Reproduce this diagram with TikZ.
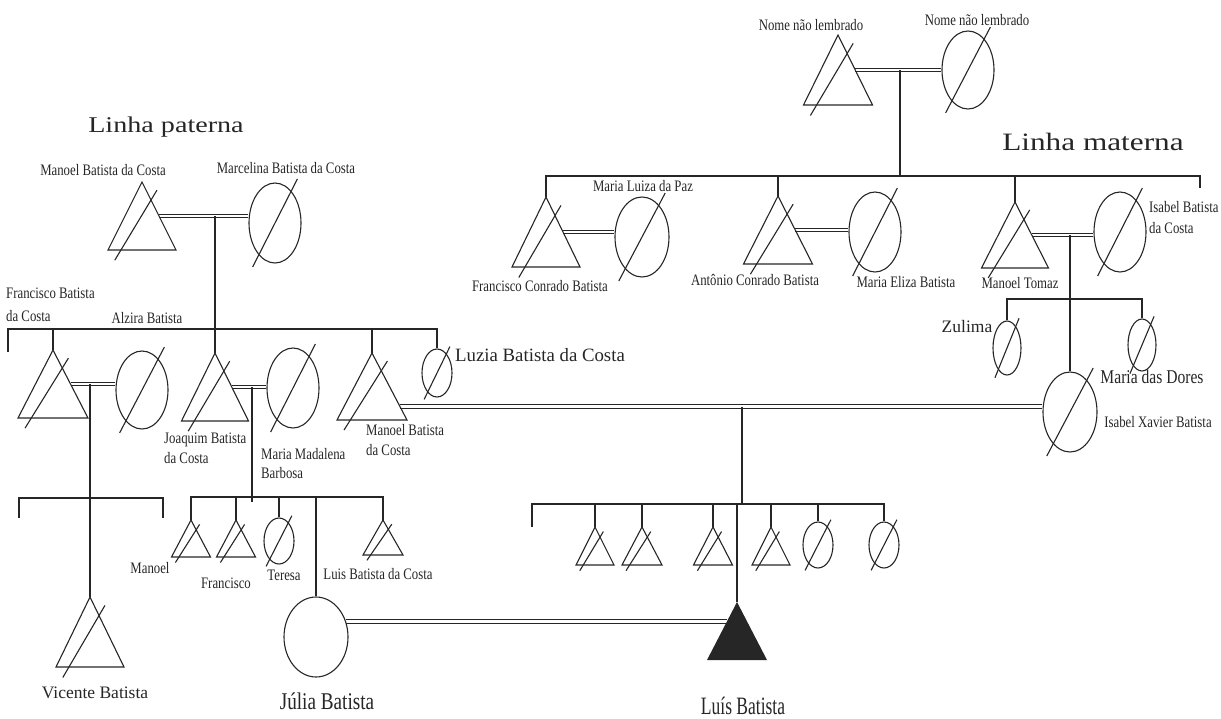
\documentclass[tikz,border=0pt]{standalone}
\usepackage{fontspec}
\setmainfont{Liberation Serif}
\newfontfamily\narrowserif[FakeStretch=0.8]{Liberation Serif}
\newfontfamily\wideserif[FakeStretch=1.25]{Liberation Serif}
\newfontfamily\tallserif[FakeStretch=0.7]{Liberation Serif}
\usetikzlibrary{calc,shapes.geometric}
\pgfdeclarelayer{bg}
\pgfsetlayers{bg,main}

\definecolor{ink}{HTML}{262626}

\tikzset{
  kin/.style={draw=ink, line width=1.1pt},
  wed/.style={draw=ink, line width=0.9pt, double=white, double distance=2.6pt},
  lab/.style={inner sep=0pt, text=ink, font=\narrowserif\fontsize{16}{20}\selectfont},
  title/.style={inner sep=0pt, text=ink, font=\wideserif\fontsize{22.5}{27}\selectfont},
}

% man: name, apex x, apex y, width, height
\newcommand{\mansym}[5]{%
  \coordinate (#1) at (#2,#3);
  \coordinate (#1-bl) at ({#2-#4/2},{#3+#5});
  \coordinate (#1-br) at ({#2+#4/2},{#3+#5});
  \coordinate (#1-mr) at ($(#1)!0.5!(#1-br)$);
  \draw[kin] (#1) -- (#1-bl) -- (#1-br) -- cycle;
  \draw[kin] ($(#1)+({-0.4*#4},{1.15*#5})$) -- ($(#1)+({0.22*#4},{0.12*#5})$);
}
% woman: name, centre x, centre y, x radius, y radius
\newcommand{\womansym}[5]{%
  \node[kin, ellipse, inner sep=0pt, minimum width={2*#4}, minimum height={2*#5}] (#1) at (#2,#3) {};
  \draw[kin] ($(#1.center)+({-0.86*#4},{1.1*#5})$) -- ($(#1.center)+({0.86*#4},{-1.1*#5})$);
}

\begin{document}
\begin{tikzpicture}[x=1pt, y=-1pt]
\useasboundingbox (0,0) rectangle (1221,718);

% linha materna
\node[title, font=\wideserif\fontsize{25}{30}\selectfont] (t-mat) at (1093,142) {Linha materna};
\mansym{nma}{838}{35}{69}{70}
\womansym{nmb}{968}{70}{26}{39}
\node[lab] (t-nma) at (811,25) {Nome não lembrado};
\node[lab] (t-nmb) at (977,20) {Nome não lembrado};
\coordinate (mj) at (900,176);
\coordinate (msr) at (1200,176);

\mansym{fc}{546}{197}{68}{70}
\womansym{lp}{642}{237}{27}{40}
\node[lab] (t-lp) at (643,186) {Maria Luiza da Paz};
\node[lab] (t-fc) at (540,286) {Francisco Conrado Batista};

\mansym{anto}{778}{196}{69}{68}
\womansym{eliza}{875}{232}{26}{40}
\node[lab] (t-anto) at (755,280) {Antônio Conrado Batista};
\node[lab] (t-eliza) at (906,282) {Maria Eliza Batista};

\mansym{mt}{1015}{202}{67}{66}
\womansym{ib}{1120}{232}{26}{40}
\node[lab] (t-mt) at (1020,283) {Manoel Tomaz};
\node[lab, anchor=west, align=left, font=\narrowserif\fontsize{16}{21}\selectfont] (t-ib) at (1149,218) {Isabel Batista\\da Costa};

\womansym{zu}{1007}{348}{14}{27}
\womansym{zx}{1142}{345}{14}{26}
\node[lab, font=\fontsize{17.5}{20}\selectfont] (t-zu) at (967,327) {Zulima};

\womansym{md}{1070}{412}{27}{40}
\node[lab, font=\narrowserif\fontsize{19.5}{20}\selectfont] (t-md) at (1152,377) {Maria das Dores};
\node[lab] (t-ix) at (1158,422) {Isabel Xavier Batista};

% linha paterna
\node[title] (t-pat) at (166,127) {Linha paterna};
\mansym{gf}{142}{182}{68}{68}
\womansym{gm}{275}{223}{26}{40}
\node[lab] (t-gf) at (103,170) {Manoel Batista da Costa};
\node[lab] (t-gm) at (286,168) {Marcelina Batista da Costa};
\coordinate (psl) at (8,329);
\coordinate (pj) at (215,329);

\mansym{fb}{53}{350}{70}{68}
\womansym{ab}{142}{390}{26}{39}
\node[lab, anchor=west, align=left, font=\narrowserif\fontsize{16}{23}\selectfont] (t-fb) at (6,305) {Francisco Batista\\da Costa};
\node[lab] (t-ab) at (147,318) {Alzira Batista};

\mansym{joaq}{215}{353}{67}{68}
\womansym{madal}{293}{388}{26}{40}
\node[lab, anchor=west, align=left] (t-joaq) at (164,448) {Joaquim Batista\\da Costa};
\node[lab, anchor=west, align=left, font=\narrowserif\fontsize{16}{19}\selectfont] (t-madal) at (261,464) {Maria Madalena\\Barbosa};

\mansym{mb}{372}{353}{70}{67}
\coordinate (mbx) at ($(mb)!0.8!(mb-br)$);
\node[lab, anchor=west, align=left] (t-mb) at (366,440) {Manoel Batista\\da Costa};

\womansym{lz}{437}{373}{15}{24}
\node[lab, font=\fontsize{18.8}{20}\selectfont] (t-lz) at (540,355) {Luzia Batista da Costa};

% filhos de Francisco
\mansym{vb}{90}{597}{68}{70}
\coordinate (vl) at (19,498);
\coordinate (vr) at (163,498);
\node[lab, font=\fontsize{17.5}{20}\selectfont] (t-vb) at (95,693) {Vicente Batista};

% filhos de Joaquim
\coordinate (jj) at (252,502);
\coordinate (jr) at (383,497);
\mansym{m1}{191}{520}{39}{37}
\mansym{f1}{236}{520}{39}{37}
\womansym{te}{279}{541}{15}{23}
\mansym{lc}{383}{520}{40}{35}
\node[kin, ellipse, inner sep=0pt, minimum width=64pt, minimum height=80pt] (ju) at (316,637) {};
\node[lab] (t-m1) at (150,568) {Manoel};
\node[lab] (t-f1) at (226,583) {Francisco};
\node[lab] (t-te) at (284,575) {Teresa};
\node[lab] (t-lc) at (378,574) {Luis Batista da Costa};
\node[lab, font=\narrowserif\fontsize{24}{26}\selectfont] (t-ju) at (327,701) {Júlia Batista};

% filhos de Manoel e Maria das Dores
\coordinate (cj) at (742,504);
\coordinate (cl) at (532,504);
\mansym{ca}{595}{527}{38}{38}
\mansym{cb}{642}{527}{40}{38}
\mansym{cc}{713}{527}{39}{38}
\mansym{cd}{771}{527}{38}{38}
\womansym{ce}{818}{545}{15}{23}
\womansym{cf}{884}{545}{15}{23}
\coordinate (lb) at (737,602);
\coordinate (lb-bl) at (707,660);
\coordinate (lb-br) at (767,660);
\fill[ink] (lb) -- (lb-bl) -- (lb-br) -- cycle;
\coordinate (lbx) at ($(lb)!0.345!(lb-bl)$);
\node[lab, font=\tallserif\fontsize{25}{26}\selectfont] (t-lb) at (743,706) {Luís Batista};

\begin{pgfonlayer}{bg}
% casamentos
\draw[wed] (nma-mr) -- (nma-mr -| nmb.west);
\draw[wed] (fc-mr) -- (fc-mr -| lp.west);
\draw[wed] (anto-mr) -- (anto-mr -| eliza.west);
\draw[wed] (mt-mr) -- (mt-mr -| ib.west);
\draw[wed] (gf-mr) -- (gf-mr -| gm.west);
\draw[wed] (fb-mr) -- (fb-mr -| ab.west);
\draw[wed] (joaq-mr) -- (joaq-mr -| madal.west);
\draw[wed] (mbx) -- (mbx -| md.west);
\draw[wed] (ju.27) -- (ju.27 -| lbx);
% descendencia
\draw[kin] (mj |- nma-mr) -- (mj);
\draw[kin] (fc) |- (msr) -- ++(0,12);
\draw[kin] (anto) -- (anto |- msr);
\draw[kin] (mt) -- (mt |- msr);
\draw[kin] (md.north) -- (md.north |- mt-mr);
\draw[kin] (zu.north) |- (zx.north |- 0,299) -- (zx.north);
\draw[kin] (pj |- gf-mr) -- (pj);
\draw[kin] (psl) ++(0,23) -- (psl) -- (lz.north |- psl) -- (lz.north);
\draw[kin] (fb) -- (fb |- psl);
\draw[kin] (joaq) -- (joaq |- psl);
\draw[kin] (mb) -- (mb |- psl);
\draw[kin] (vb) -- (vb |- fb-mr);
\draw[kin] (vl) ++(0,20) -- (vl) -- (vr) -- ++(0,20);
\draw[kin] (jj |- joaq-mr) -- (jj);
\draw[kin] (m1) |- (jr) -- (lc);
\draw[kin] (f1) -- (f1 |- jr);
\draw[kin] (te.north) -- (te.north |- jr);
\draw[kin] (ju.north) -- (ju.north |- jr);
\draw[kin] (cj |- mbx) -- (cj);
\draw[kin] (cl) ++(0,23) -- (cl) -- (cf.north |- cl) -- (cf.north);
\draw[kin] (ca) -- (ca |- cl);
\draw[kin] (cb) -- (cb |- cl);
\draw[kin] (cc) -- (cc |- cl);
\draw[kin] (cd) -- (cd |- cl);
\draw[kin] (ce.north) -- (ce.north |- cl);
\draw[kin] (lb) -- (lb |- cl);
\end{pgfonlayer}
\end{tikzpicture}
\end{document}
